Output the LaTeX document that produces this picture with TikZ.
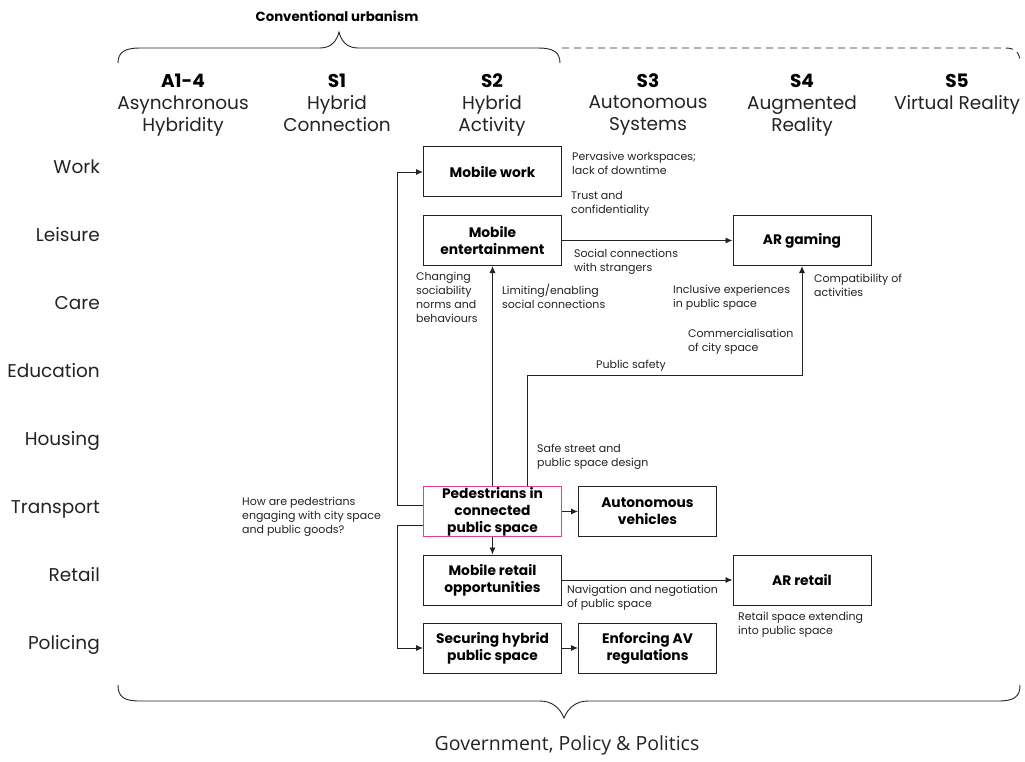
\documentclass[tikz,border=0pt]{standalone}
\usepackage{fontspec}
\setmainfont{Poppins}
\newfontfamily\govfont{Open Sans}
\usetikzlibrary{arrows.meta}
\definecolor{ink}{RGB}{35,35,35}
\definecolor{pinkc}{RGB}{226,64,140}
\begin{document}
\begin{tikzpicture}[x=1pt,y=-1pt,
  box/.style={draw=ink, line width=1pt, minimum width=138pt, minimum height=50pt, align=center, text=black, font=\fontsize{13.8}{17}\selectfont\bfseries, inner sep=0pt},
  note/.style={align=left, anchor=north west, font=\fontsize{11}{14}\selectfont, text=ink, inner sep=0pt},
  conn/.style={draw=ink, line width=0.9pt, -{Latex[length=7pt,width=6pt]}},
  brace/.style={draw=ink, line width=0.9pt},
  hdb/.style={font=\fontsize{18.5}{22}\selectfont\bfseries, text=black, inner sep=0pt, anchor=base},
  hd/.style={font=\fontsize{18.5}{22}\selectfont, text=ink, align=center, inner sep=0pt, anchor=north},
  row/.style={font=\fontsize{18.5}{22}\selectfont, text=ink, anchor=base east, inner sep=0pt}
]
\useasboundingbox (0,0) rectangle (1025,762);

% top braces
\node[font=\fontsize{13.3}{15}\selectfont\bfseries, inner sep=0pt] (conv) at (337,16) {Conventional urbanism};
\draw[brace] (118,63) .. controls (118,52) and (125,48) .. (140,48) -- (320,48) .. controls (332,48) and (337,40) .. (339,32) .. controls (341,40) and (346,48) .. (358,48) -- (538,48) .. controls (553,48) and (560,52) .. (560,63);
\draw[brace, dash pattern=on 7pt off 5pt] (562,48) -- (1005,48) .. controls (1015,48) and (1020,52) .. (1020,63);

% column headers
\node[hdb] (ha) at (183,87.5) {A1-4};
\node[hd] (hat) at (183,95.5) {Asynchronous\\Hybridity};
\node[hdb] (h1) at (337,87.5) {S1};
\node[hd] (h1t) at (337,95.5) {Hybrid\\Connection};
\node[hdb] (h2) at (492,87.5) {S2};
\node[hd] (h2t) at (492,95.5) {Hybrid\\Activity};
\node[hdb] (h3) at (648,87.5) {S3};
\node[hd] (h3t) at (648,95.5) {Autonomous\\Systems};
\node[hdb] (h4) at (802,87.5) {S4};
\node[hd] (h4t) at (802,95.5) {Augmented\\Reality};
\node[hdb] (h5) at (957,87.5) {S5};
\node[hd] (h5t) at (957,95.5) {Virtual Reality};

% row labels
\node[row] (rw) at (100,173.5) {Work};
\node[row] (rl) at (100,241.5) {Leisure};
\node[row] (rc) at (100,309.5) {Care};
\node[row] (re) at (100,377.5) {Education};
\node[row] (rh) at (100,445.5) {Housing};
\node[row] (rt) at (100,513.5) {Transport};
\node[row] (rr) at (100,581.5) {Retail};
\node[row] (rp) at (100,649.5) {Policing};

% boxes
\node[box] (mw) at (492.5,172) {Mobile work};
\node[box] (me) at (492.5,240.5) {Mobile\\entertainment};
\node[box] (arg) at (802,240.5) {AR gaming};
\node[box, draw=pinkc, line width=1.5pt] (ped) at (492.5,511.5) {Pedestrians in\\connected\\public space};
\node[box] (av) at (647.5,511.5) {Autonomous\\vehicles};
\node[box] (mr) at (492.5,580) {Mobile retail\\opportunities};
\node[box] (arr) at (802,580) {AR retail};
\node[box] (sec) at (492.5,648) {Securing hybrid\\public space};
\node[box] (enf) at (647.5,648) {Enforcing AV\\regulations};

% connectors
\draw[conn] ([yshift=6pt]ped.west) -- ++(-25,0) |- (mw.west);
\draw[conn] ([yshift=-14pt]ped.west) -- ++(-25,0) |- (sec.west);
\draw[conn] (ped.north) -- (me.south);
\draw[conn] ([xshift=35pt]ped.north) -- ++(0,-110) -| (arg.south);
\draw[conn] (me.east) -- (arg.west);
\draw[conn] (ped.east) -- (av.west);
\draw[conn] (ped.south) -- (mr.north);
\draw[conn] (mr.east) -- (arr.west);
\draw[conn] (sec.east) -- (enf.west);

% notes
\node[note] (n1) at (572,152) {Pervasive workspaces;\\lack of downtime};
\node[note] (n2) at (571,191) {Trust and\\confidentiality};
\node[note] (n3) at (574,249) {Social connections\\with strangers};
\node[note] (n4) at (416,272) {Changing\\sociability\\norms and\\behaviours};
\node[note] (n5) at (502,284) {Limiting/enabling\\social connections};
\node[note] (n6) at (673,285) {Inclusive experiences\\in public space};
\node[note] (n7) at (814,274) {Compatibility of\\activities};
\node[note] (n8) at (688,329) {Commercialisation\\of city space};
\node[note] (n9) at (596,360) {Public safety};
\node[note] (n10) at (537,444) {Safe street and\\public space design};
\node[note] (n11) at (242,497) {How are pedestrians\\engaging with city space\\and public goods?};
\node[note] (n12) at (567,585) {Navigation and negotiation\\of public space};
\node[note] (n13) at (738,612) {Retail space extending\\into public space};

% bottom brace
\draw[brace] (118,685) .. controls (118,697) and (124,701) .. (140,701) -- (540,701) .. controls (552,701) and (560,708) .. (564,718) .. controls (568,708) and (576,701) .. (588,701) -- (998,701) .. controls (1014,701) and (1020,697) .. (1020,685);
\node[font=\govfont\fontsize{19.5}{22}\selectfont, text=ink, inner sep=0pt] (gov) at (567,745) {Government, Policy \& Politics};
\end{tikzpicture}
\end{document}
